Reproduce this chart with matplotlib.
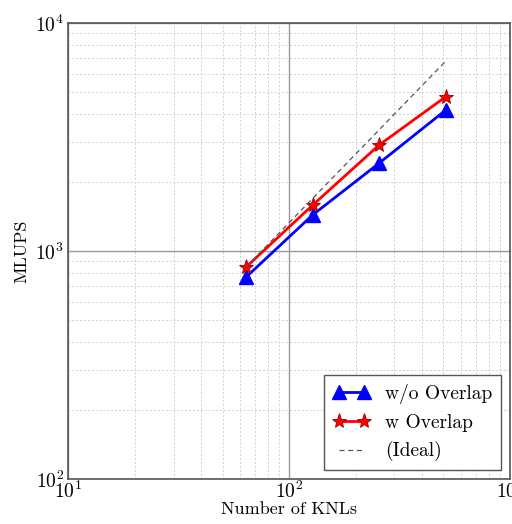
import matplotlib
matplotlib.use("Agg")
import matplotlib.pyplot as plt

# data
knls = [64, 128, 256, 512]
mlups_no_overlap = [769, 1440, 2430, 4150]
mlups_overlap = [851, 1590, 2920, 4750]
mlups_ideal = [851, 1702, 3404, 6808]

plt.rcParams["font.family"] = "cmr10"
plt.rcParams["mathtext.fontset"] = "cm"
plt.rcParams["axes.formatter.use_mathtext"] = True

fig = plt.figure(figsize=(5.12, 5.24), dpi=100)
ax = fig.add_axes([0.133, 0.086, 0.863, 0.870])

ax.plot(knls, mlups_no_overlap, color="#0000ff", lw=2, marker="^",
        markersize=10, label="w/o Overlap")
ax.plot(knls, mlups_overlap, color="#ff0000", lw=2, marker="*",
        markersize=11, markeredgecolor="#990000", markeredgewidth=0.6,
        label="w Overlap")
ax.plot(knls, mlups_ideal, color="#555555", lw=0.9, ls=(0, (4, 3)),
        label="(Ideal)")

ax.set_xscale("log")
ax.set_yscale("log")
ax.set_xlim(10, 1000)
ax.set_ylim(100, 10000)

ax.grid(which="major", color="#999999", lw=1.0, ls="-")
ax.grid(which="minor", color="#d0d0d0", lw=0.7, ls=(0, (2, 2)))
ax.tick_params(which="both", length=0, labelsize=14)
ax.tick_params(axis="x", pad=1)
ax.tick_params(axis="y", pad=3)
for s in ax.spines.values():
    s.set_color("#555555")
    s.set_linewidth(1.2)

ax.set_xlabel("Number of KNLs", fontsize=13, labelpad=0)
ax.set_ylabel("MLUPS", fontsize=13, labelpad=4)

leg = ax.legend(loc="lower right", fontsize=14, numpoints=2, fancybox=False,
                framealpha=1, edgecolor="#555555", borderpad=0.45,
                handlelength=1.9, handletextpad=0.8, labelspacing=0.5,
                borderaxespad=0.45)
leg.get_frame().set_linewidth(1.0)

fig.savefig("out.png", dpi=100)
plt.close(fig)
